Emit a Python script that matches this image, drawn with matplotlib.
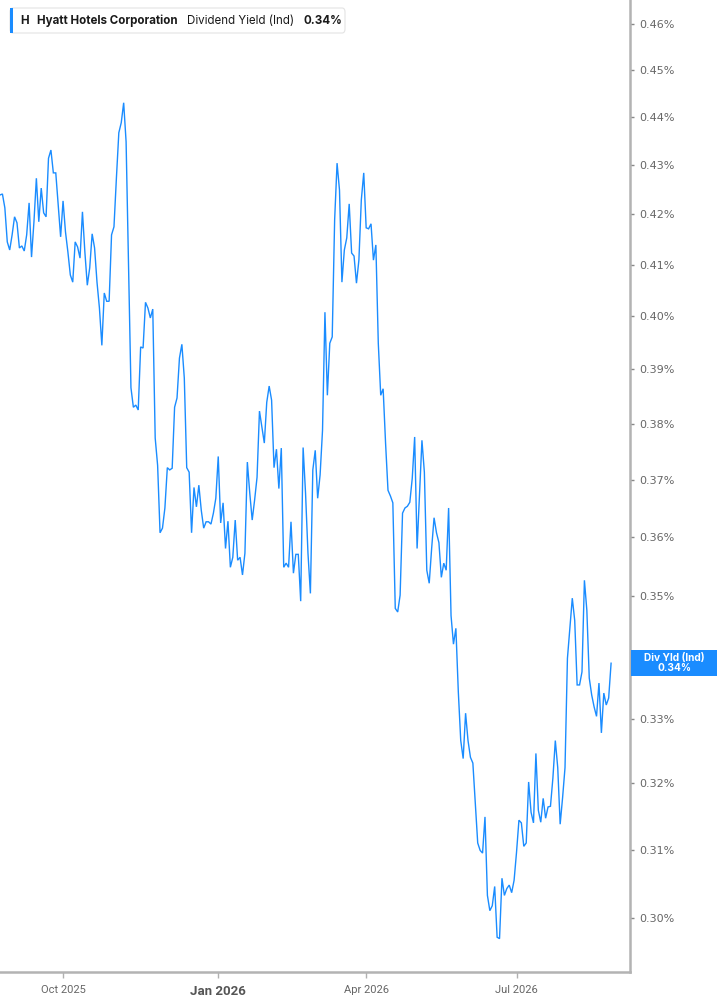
import matplotlib
matplotlib.use("Agg")
import matplotlib.pyplot as plt
from matplotlib.patches import FancyBboxPatch, Rectangle
from matplotlib.ticker import NullLocator, FixedLocator
import numpy as np
import pandas as pd

# ---- data (dividend yield, %) ----
yield_pct = [
    0.4239, 0.4241, 0.4213, 0.4145, 0.4129, 0.4159, 0.4195, 0.4183, 0.4133, 0.4137,
    0.4127, 0.4159, 0.4223, 0.4115, 0.4185, 0.4273, 0.4185, 0.4253, 0.4203, 0.4195,
    0.4314, 0.4331, 0.4284, 0.4284, 0.4219, 0.4155, 0.4227, 0.4165, 0.4125, 0.4080,
    0.4066, 0.4145, 0.4135, 0.4113, 0.4205, 0.4125, 0.4060, 0.4094, 0.4161, 0.4133,
    0.4066, 0.4016, 0.3945, 0.4045, 0.4029, 0.4029,
    0.4159, 0.4175, 0.4273, 0.4367, 0.4388, 0.4430, 0.4348, 0.4105, 0.3866, 0.3830,
    0.3834, 0.3825, 0.3942, 0.3940, 0.4027, 0.4016, 0.3997, 0.4014, 0.3774, 0.3725,
    0.3607, 0.3615, 0.3650, 0.3721, 0.3717, 0.3720, 0.3830, 0.3847, 0.3921, 0.3947,
    0.3884, 0.3721, 0.3713, 0.3607, 0.3686, 0.3652, 0.3690, 0.3646, 0.3615, 0.3626,
    0.3626, 0.3622,
    0.3641, 0.3667, 0.3741, 0.3624, 0.3659, 0.3580, 0.3627, 0.3548, 0.3565, 0.3629,
    0.3560, 0.3565, 0.3535, 0.3572, 0.3731, 0.3676, 0.3629, 0.3664, 0.3704, 0.3823,
    0.3794, 0.3765, 0.3839, 0.3869, 0.3843, 0.3721, 0.3754, 0.3684, 0.3756, 0.3548,
    0.3555, 0.3548, 0.3626, 0.3538, 0.3570, 0.3570, 0.3491, 0.3757, 0.3676, 0.3572,
    0.3504, 0.3717, 0.3752,
    0.3667, 0.3708, 0.3788, 0.4008, 0.3852, 0.3949, 0.3961, 0.4189, 0.4304, 0.4249,
    0.4066, 0.4129, 0.4153, 0.4221, 0.4123, 0.4117, 0.4064, 0.4109, 0.4229, 0.4284,
    0.4173, 0.4171, 0.4181, 0.4109, 0.4139, 0.3949, 0.3852, 0.3864, 0.3765, 0.3681,
    0.3671, 0.3659, 0.3479, 0.3473, 0.3501, 0.3641, 0.3650, 0.3653, 0.3660, 0.3702,
    0.3776, 0.3580, 0.3676, 0.3770,
    0.3713, 0.3543, 0.3521, 0.3580, 0.3633, 0.3607, 0.3590, 0.3531, 0.3555, 0.3543,
    0.3650, 0.3467, 0.3420, 0.3446, 0.3343, 0.3266, 0.3238, 0.3309, 0.3266, 0.3240,
    0.3231, 0.3170, 0.3110, 0.3099, 0.3095, 0.3149, 0.3033, 0.3011, 0.3018, 0.3046,
    0.2973, 0.2971, 0.3058, 0.3033, 0.3043, 0.3048, 0.3037, 0.3055, 0.3096, 0.3144,
    0.3140, 0.3105, 0.3110, 0.3202,
    0.3156, 0.3140, 0.3246, 0.3159, 0.3141, 0.3177, 0.3147, 0.3164, 0.3165, 0.3208,
    0.3266, 0.3224, 0.3138, 0.3178, 0.3224, 0.3397, 0.3446, 0.3496, 0.3459, 0.3354,
    0.3354, 0.3375, 0.3526, 0.3476, 0.3365, 0.3338, 0.3319, 0.3304, 0.3357, 0.3278,
    0.3341, 0.3322, 0.3333, 0.3389,
]
start_date = "2025-08-25"
market_holidays = ["2025-09-01", "2025-11-27", "2025-12-25", "2026-01-01", "2026-01-19",
                   "2026-02-16", "2026-04-03", "2026-05-25", "2026-06-19", "2026-07-03"]
tick_months = [(2025, 10), (2026, 1), (2026, 4), (2026, 7)]
tick_labels = ["Oct 2025", "Jan 2026", "Apr 2026", "Jul 2026"]
y_ticks = [0.30, 0.31, 0.32, 0.33, 0.34, 0.35, 0.36, 0.37, 0.38, 0.39,
           0.40, 0.41, 0.42, 0.43, 0.44, 0.45, 0.46]
ticker_sym = "H"
company = "Hyatt Hotels Corporation"
metric = "Dividend Yield (Ind)"
last_label = "Div Yld (Ind)"

dates = pd.bdate_range(start_date, periods=len(yield_pct), freq="C", holidays=market_holidays)
x = np.arange(len(dates))
tick_pos = [int(np.argmax((dates.year == yy) & (dates.month == mm))) for yy, mm in tick_months]

BLUE = "#1a8cff"
W, H = 717, 1005
fig = plt.figure(figsize=(W / 100, H / 100), dpi=100)
ax = fig.add_axes([0, 33 / H, 630 / W, 972 / H])

ax.plot(x, yield_pct, color=BLUE, lw=1.0, solid_joinstyle="miter")
ax.set_yscale("log")
ax.set_ylim(0.2924, 0.4653)
ax.set_xlim(0, 259.8)

last_txt = f"{yield_pct[-1]:.2f}%"
ax.yaxis.tick_right()
ax.yaxis.set_major_locator(FixedLocator(y_ticks))
ax.yaxis.set_minor_locator(NullLocator())
# the tick label hidden under the last-value tag is left blank (as in the reference)
ax.set_yticklabels(["" if f"{v:.2f}%" == last_txt else f"{v:.2f}%" for v in y_ticks])
ax.tick_params(axis="y", which="major", length=3, width=1, color="#888888",
               labelcolor="#666666", labelsize=8, pad=4)
for lab in ax.get_yticklabels():
    lab.set_fontfamily("DejaVu Sans")

ax.set_xticks(tick_pos)
ax.set_xticklabels(tick_labels)
ax.xaxis.set_minor_locator(NullLocator())
ax.tick_params(axis="x", length=4, width=1, color="#b0b0b0", labelcolor="#666666",
               labelsize=8, pad=5)
for lab in ax.get_xticklabels():
    lab.set_fontfamily("Roboto")
    if lab.get_text() == "Jan 2026":
        lab.set_fontweight("bold")
        lab.set_fontsize(9.5)
        lab.set_color("#555555")

for s in ["left", "top"]:
    ax.spines[s].set_visible(False)
for s in ["right", "bottom"]:
    ax.spines[s].set_color("#b3b3b3")
    ax.spines[s].set_linewidth(1.8)

# ---- legend box (top-left) ----
lx0, lx1, ly_top, ly_bot = 10, 345, 8, 33
box = FancyBboxPatch((lx0 / W, 1 - ly_bot / H), (lx1 - lx0) / W, (ly_bot - ly_top) / H,
                     boxstyle="round,pad=0,rounding_size=0.004", transform=fig.transFigure,
                     facecolor="white", edgecolor="#e3e3e3", lw=0.8, zorder=5)
fig.patches.append(box)
fig.patches.append(Rectangle((lx0 / W, 1 - ly_bot / H), 3 / W, (ly_bot - ly_top) / H,
                             transform=fig.transFigure, facecolor=BLUE, edgecolor="none", zorder=6))
ty = 1 - 20.5 / H
tkw = dict(va="center", ha="left", fontsize=8.3, color="#1a1a1a", family="Inter", zorder=7)
fig.text(20 / W, ty, ticker_sym, fontweight="bold", **tkw)
fig.text(37 / W, ty, company, fontweight="bold", **tkw)
fig.text(187 / W, ty, metric, fontweight="normal", **tkw)
fig.text(303 / W, ty, last_txt, fontweight="bold", **tkw)

# ---- last value tag on the right ----
y_disp = ax.transData.transform((x[-1], yield_pct[-1]))[1]
y_fig = fig.transFigure.inverted().transform((0, y_disp))[1]
tag_h = 26 / H
fig.patches.append(Rectangle((631 / W, y_fig - tag_h / 2), (W - 631) / W, tag_h,
                             transform=fig.transFigure, facecolor=BLUE, edgecolor="none", zorder=6))
fig.text(674 / W, y_fig, f"{last_label}\n{last_txt}", ha="center", va="center",
         color="white", fontsize=7.3, fontweight="bold", family="Inter", linespacing=1.05,
         zorder=7)

fig.savefig("out.png", dpi=100)
